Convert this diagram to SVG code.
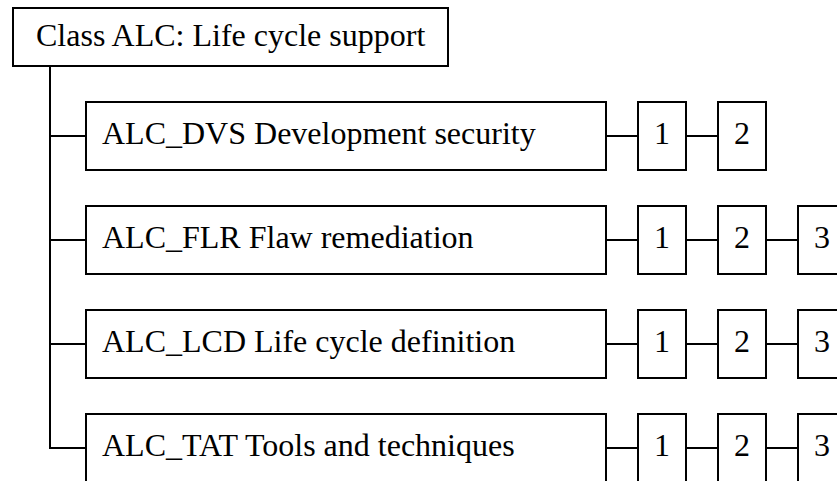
<svg xmlns="http://www.w3.org/2000/svg" width="837" height="481" viewBox="0 0 837 481">
<style>
rect{fill:#fff;stroke:#000;stroke-width:2}
line{stroke:#000;stroke-width:2}
text{font-family:"Liberation Serif","Times New Roman",serif;font-size:32px;fill:#000}
.n{text-anchor:middle}
</style>
<rect x="0" y="0" width="837" height="481" style="stroke:none"/>
<g id="connectors">
<line x1="50" y1="66" x2="50" y2="449"/>
<line x1="49" y1="136" x2="86" y2="136"/>
<line x1="49" y1="240" x2="86" y2="240"/>
<line x1="49" y1="344" x2="86" y2="344"/>
<line x1="49" y1="448" x2="86" y2="448"/>
<line x1="606" y1="136" x2="638" y2="136"/><line x1="686" y1="136" x2="718" y2="136"/>
<line x1="606" y1="240" x2="638" y2="240"/><line x1="686" y1="240" x2="718" y2="240"/><line x1="766" y1="240" x2="798" y2="240"/>
<line x1="606" y1="344" x2="638" y2="344"/><line x1="686" y1="344" x2="718" y2="344"/><line x1="766" y1="344" x2="798" y2="344"/>
<line x1="606" y1="448" x2="638" y2="448"/><line x1="686" y1="448" x2="718" y2="448"/><line x1="766" y1="448" x2="798" y2="448"/>
</g>
<g id="class-alc"><rect x="13" y="8" width="435" height="58"/><text x="36" y="46">Class ALC: Life cycle support</text></g>
<g id="alc-dvs"><rect x="86" y="102" width="520" height="68"/><text x="102" y="144">ALC_DVS Development security</text></g>
<g id="alc-dvs-1"><rect x="638" y="102" width="48" height="68"/><text class="n" x="662" y="144">1</text></g>
<g id="alc-dvs-2"><rect x="718" y="102" width="48" height="68"/><text class="n" x="742" y="144">2</text></g>
<g id="alc-flr"><rect x="86" y="206" width="520" height="68"/><text x="102" y="248">ALC_FLR Flaw remediation</text></g>
<g id="alc-flr-1"><rect x="638" y="206" width="48" height="68"/><text class="n" x="662" y="248">1</text></g>
<g id="alc-flr-2"><rect x="718" y="206" width="48" height="68"/><text class="n" x="742" y="248">2</text></g>
<g id="alc-flr-3"><rect x="798" y="206" width="48" height="68"/><text class="n" x="822" y="248">3</text></g>
<g id="alc-lcd"><rect x="86" y="310" width="520" height="68"/><text x="102" y="352">ALC_LCD Life cycle definition</text></g>
<g id="alc-lcd-1"><rect x="638" y="310" width="48" height="68"/><text class="n" x="662" y="352">1</text></g>
<g id="alc-lcd-2"><rect x="718" y="310" width="48" height="68"/><text class="n" x="742" y="352">2</text></g>
<g id="alc-lcd-3"><rect x="798" y="310" width="48" height="68"/><text class="n" x="822" y="352">3</text></g>
<g id="alc-tat"><rect x="86" y="414" width="520" height="68"/><text x="102" y="456">ALC_TAT Tools and techniques</text></g>
<g id="alc-tat-1"><rect x="638" y="414" width="48" height="68"/><text class="n" x="662" y="456">1</text></g>
<g id="alc-tat-2"><rect x="718" y="414" width="48" height="68"/><text class="n" x="742" y="456">2</text></g>
<g id="alc-tat-3"><rect x="798" y="414" width="48" height="68"/><text class="n" x="822" y="456">3</text></g>
</svg>
